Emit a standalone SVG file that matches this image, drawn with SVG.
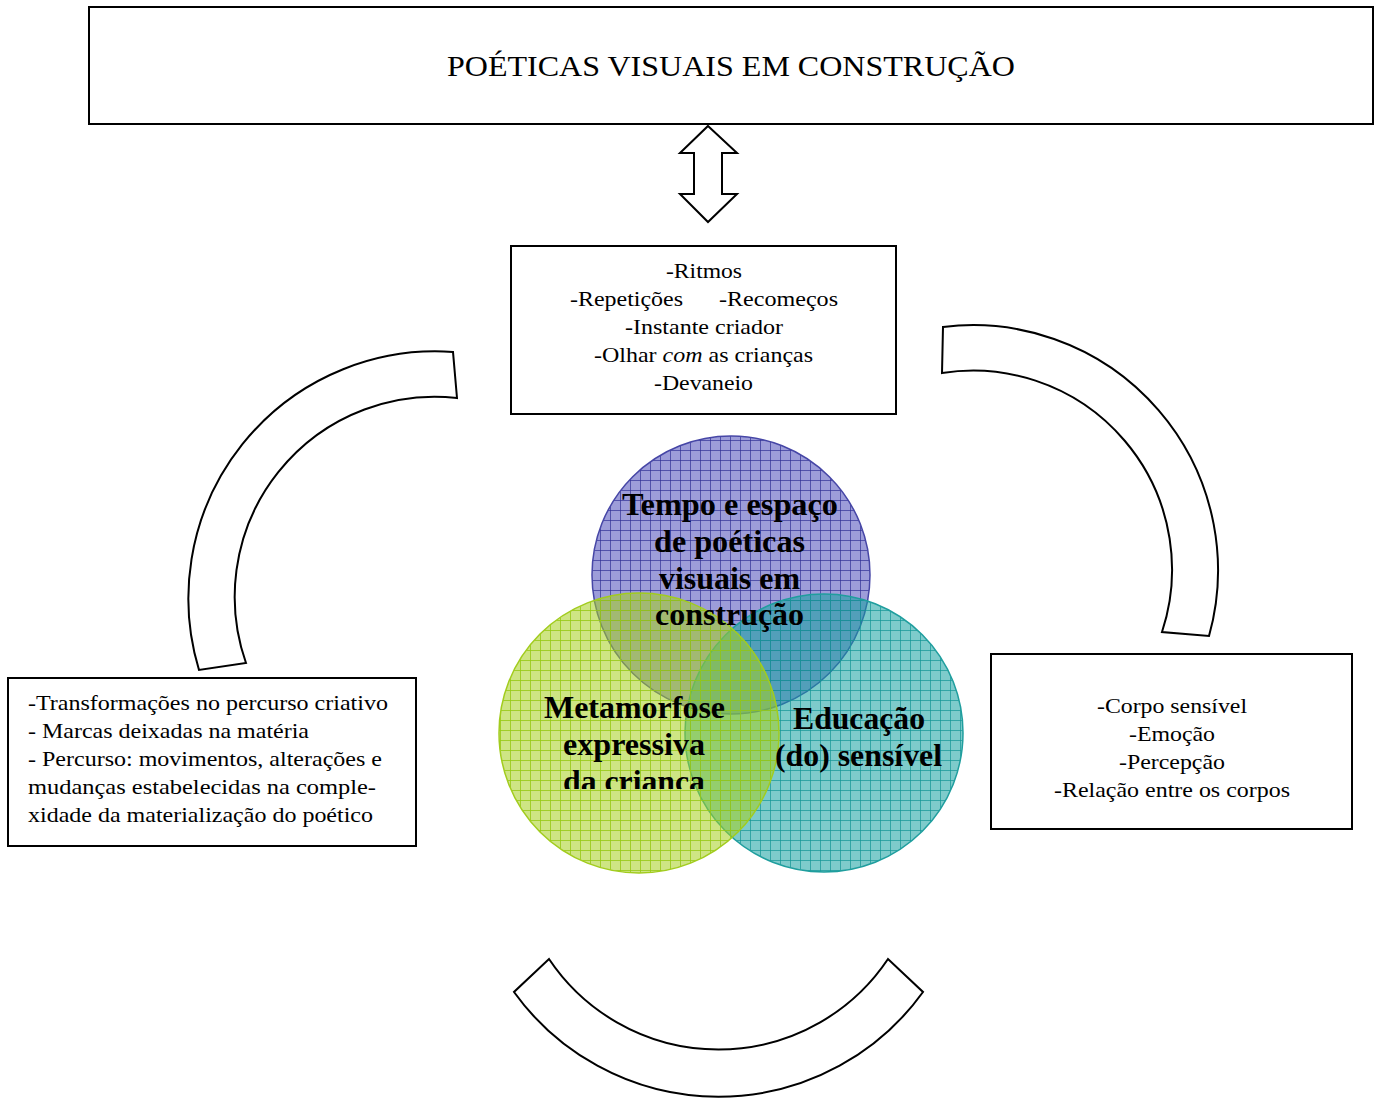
<svg xmlns="http://www.w3.org/2000/svg" width="1375" height="1100" viewBox="0 0 1375 1100">
<style>
.box{fill:#fff;stroke:#000;stroke-width:2}
.shape{fill:#fff;stroke:#000;stroke-width:2;stroke-linejoin:miter}
.t{font-family:"Liberation Serif","Times New Roman",serif;fill:#000}
.c{text-anchor:middle}
.n{font-size:21.5px}
.b{font-weight:bold;font-size:32px;text-anchor:middle}
</style>
<defs>
<pattern id="pP" width="10" height="10" patternUnits="userSpaceOnUse">
<rect width="10" height="10" fill="rgb(60,60,180)" fill-opacity="0.5"/>
<path d="M0 0.5H10M0.5 0V10" stroke="rgb(50,50,150)" stroke-opacity="0.7" stroke-width="1"/>
</pattern>
<pattern id="pG" width="10" height="10" patternUnits="userSpaceOnUse">
<rect width="10" height="10" fill="rgb(165,208,30)" fill-opacity="0.55"/>
<path d="M0 0.5H10M0.5 0V10" stroke="rgb(150,200,20)" stroke-opacity="0.8" stroke-width="1"/>
</pattern>
<pattern id="pT" width="10" height="10" patternUnits="userSpaceOnUse">
<rect width="10" height="10" fill="rgb(20,160,160)" fill-opacity="0.55"/>
<path d="M0 0.5H10M0.5 0V10" stroke="rgb(20,150,150)" stroke-opacity="0.7" stroke-width="1"/>
</pattern>
<clipPath id="clipM"><rect x="480" y="600" width="320" height="189"/></clipPath>
</defs>

<g id="title">
<rect class="box" x="89" y="7" width="1284" height="117"/>
<text class="t c" x="731" y="76" font-size="29" textLength="568" lengthAdjust="spacingAndGlyphs">POÉTICAS VISUAIS EM CONSTRUÇÃO</text>
</g>

<g id="connectors">
<polygon class="shape" points="708,126 737,153 722,153 722,194 737,194 708,222 680,194 694,194 694,153 680,153"/>
<path class="shape" d="M 453 352 A 247 247 0 0 0 199 670 L 246 663 A 200 200 0 0 1 457 398 Z"/>
<path class="shape" d="M 943 327 A 245 245 0 0 1 1209 636 L 1162 632 A 199 199 0 0 0 942 373 Z"/>
<path class="shape" d="M 549 959 A 204 204 0 0 0 888 959 L 923 992 A 252 252 0 0 1 514 992 Z"/>
</g>

<g id="topbox">
<rect class="box" x="511" y="246" width="385" height="168"/>
<text class="t c n" x="704" y="278" textLength="76" lengthAdjust="spacingAndGlyphs">-Ritmos</text>
<text class="t c n" x="626.5" y="306" textLength="113" lengthAdjust="spacingAndGlyphs">-Repetições</text>
<text class="t c n" x="778.5" y="306" textLength="119" lengthAdjust="spacingAndGlyphs">-Recomeços</text>
<text class="t c n" x="704" y="334" textLength="158" lengthAdjust="spacingAndGlyphs">-Instante criador</text>
<text class="t c n" x="703.5" y="362" textLength="219" lengthAdjust="spacingAndGlyphs">-Olhar <tspan font-style="italic">com</tspan> as crianças</text>
<text class="t c n" x="703.5" y="390" textLength="99" lengthAdjust="spacingAndGlyphs">-Devaneio</text>
</g>

<g id="leftbox">
<rect class="box" x="8" y="678" width="408" height="168"/>
<text class="t n" x="28" y="710" textLength="360" lengthAdjust="spacingAndGlyphs">-Transformações no percurso criativo</text>
<text class="t n" x="28" y="738" textLength="281" lengthAdjust="spacingAndGlyphs">- Marcas deixadas na matéria</text>
<text class="t n" x="28" y="766" textLength="354" lengthAdjust="spacingAndGlyphs">- Percurso: movimentos, alterações e</text>
<text class="t n" x="28" y="794" textLength="348" lengthAdjust="spacingAndGlyphs">mudanças estabelecidas na  comple-</text>
<text class="t n" x="28" y="822" textLength="345" lengthAdjust="spacingAndGlyphs">xidade da materialização do poético</text>
</g>

<g id="rightbox">
<rect class="box" x="991" y="654" width="361" height="175"/>
<text class="t c n" x="1172" y="713" textLength="150" lengthAdjust="spacingAndGlyphs">-Corpo sensível</text>
<text class="t c n" x="1172" y="741" textLength="86" lengthAdjust="spacingAndGlyphs">-Emoção</text>
<text class="t c n" x="1172" y="769" textLength="106" lengthAdjust="spacingAndGlyphs">-Percepção</text>
<text class="t c n" x="1172" y="797" textLength="236" lengthAdjust="spacingAndGlyphs">-Relação entre os corpos</text>
</g>

<g id="venn">
<g id="circle-tempo">
<circle cx="731" cy="575" r="139" fill="url(#pP)" stroke="#4646a6" stroke-width="1.5"/>
</g>
<g id="circle-educacao">
<circle cx="824" cy="733" r="139" fill="url(#pT)" stroke="#1f9e9e" stroke-width="1.5"/>
</g>
<g id="circle-metamorfose">
<circle cx="639" cy="733" r="140" fill="url(#pG)" stroke="#a2cc1e" stroke-width="1.5"/>
</g>
<g id="label-tempo">
<text class="t b" x="730" y="515" textLength="216" lengthAdjust="spacingAndGlyphs">Tempo e espaço</text>
<text class="t b" x="729.5" y="552" textLength="151" lengthAdjust="spacingAndGlyphs">de poéticas</text>
<text class="t b" x="729.5" y="589" textLength="141" lengthAdjust="spacingAndGlyphs">visuais em</text>
<text class="t b" x="729.5" y="625" textLength="149" lengthAdjust="spacingAndGlyphs">construção</text>
</g>
<g id="label-metamorfose" clip-path="url(#clipM)">
<text class="t b" x="634.5" y="718" textLength="181" lengthAdjust="spacingAndGlyphs">Metamorfose</text>
<text class="t b" x="634" y="755" textLength="142" lengthAdjust="spacingAndGlyphs">expressiva</text>
<text class="t b" x="634" y="792" textLength="142" lengthAdjust="spacingAndGlyphs">da criança</text>
</g>
<g id="label-educacao">
<text class="t b" x="859" y="729" textLength="132" lengthAdjust="spacingAndGlyphs">Educação</text>
<text class="t b" x="858.5" y="766" textLength="167" lengthAdjust="spacingAndGlyphs">(do) sensível</text>
</g>
</g>
</svg>
